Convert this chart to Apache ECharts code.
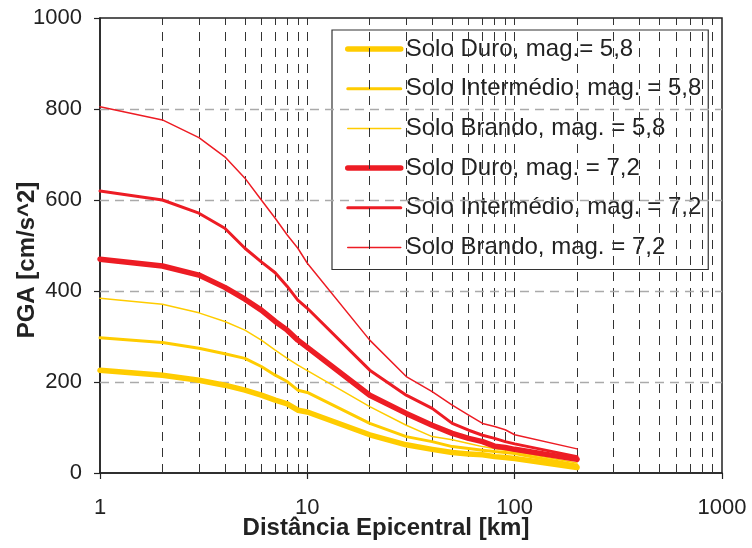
<!DOCTYPE html>
<html>
<head>
<meta charset="utf-8">
<script src="https://cdn.jsdelivr.net/npm/echarts@6/dist/echarts.min.js"></script>
<style>
  html, body { margin: 0; padding: 0; background: #fff; }
  #chart { width: 752px; height: 548px; }
</style>
</head>
<body>
<div id="chart"></div>
<script>
// Epicentral distance [km]
const distances = [1, 2, 3, 4, 5, 6, 7, 8, 9, 10, 20, 30, 40, 50, 60, 70, 80, 90, 100, 200];

// PGA [cm/s^2] per soil type and magnitude
const duro58    = [226, 215, 204, 193, 182, 171, 160, 152, 138, 134, 84, 62, 52, 45, 42, 40, 36, 34, 32, 12];
const inter58   = [297, 287, 274, 262, 252, 234, 215, 201, 182, 177, 109, 80, 69, 58, 54, 50, 47, 45, 43, 17];
const brando58  = [384, 371, 352, 333, 314, 292, 270, 252, 237, 225, 146, 105, 80, 73, 65, 58, 54, 50, 47, 22];
const duro72    = [470, 455, 435, 408, 382, 358, 333, 314, 292, 276, 171, 131, 105, 87, 76, 69, 59, 56, 52, 30];
const inter72   = [620, 600, 571, 538, 494, 464, 440, 410, 380, 362, 226, 171, 142, 109, 94, 83, 76, 69, 64, 36];
const brando72  = [805, 776, 737, 695, 648, 600, 560, 523, 494, 461, 292, 212, 179, 149, 127, 109, 102, 95, 84, 53];

const seriesNames = [
  'Solo Duro, mag.= 5,8',
  'Solo Intermédio, mag. = 5,8',
  'Solo Brando, mag. = 5,8',
  'Solo Duro, mag. = 7,2',
  'Solo Intermédio, mag. = 7,2',
  'Solo Brando, mag. = 7,2'
];
const seriesValues = [duro58, inter58, brando58, duro72, inter72, brando72];

// Log-decade grid positions and horizontal grid levels
const xGridValues = [2, 3, 4, 5, 6, 7, 8, 9, 10, 20, 30, 40, 50, 60, 70, 80, 90, 100,
                     200, 300, 400, 500, 600, 700, 800, 900];
const yGridValues = [200, 400, 600, 800];

const YELLOW = '#FFCC00';
const RED = '#ED1C24';
const colors = [YELLOW, YELLOW, YELLOW, RED, RED, RED];
const widths = [5.5, 3, 1.5, 5.5, 3, 1.5];

const FONT = '"Liberation Sans", Arial, sans-serif';

const chart = echarts.init(document.getElementById('chart'), null, { renderer: 'canvas' });

const lineSeries = seriesNames.map((name, i) => ({
  name: name,
  type: 'line',
  data: distances.map((d, k) => [d, seriesValues[i][k]]),
  showSymbol: false,
  symbol: 'none',
  z: 5,
  color: colors[i],
  lineStyle: { color: colors[i], width: widths[i], cap: 'round', join: 'round' },
  emphasis: { disabled: true },
  silent: true
}));

// Dashed grid drawn as mark lines on an empty helper series
const gridSeries = {
  name: 'grid',
  type: 'line',
  data: [],
  z: 1,
  silent: true,
  markLine: {
    silent: true,
    symbol: ['none', 'none'],
    label: { show: false },
    animation: false,
    data: [
      ...xGridValues.map(v => ({ xAxis: v, lineStyle: { color: '#333', width: 1, type: [9, 7] } })),
      ...yGridValues.map(v => ({ yAxis: v, lineStyle: { color: '#aaa', width: 1.3, type: [9, 6] } }))
    ]
  }
};

chart.setOption({
  animation: false,
  backgroundColor: '#fff',
  grid: {
    left: 100, right: 30, top: 18, bottom: 75,
    outerBoundsMode: 'none',
    containLabel: false,
    show: true, borderColor: '#222', borderWidth: 1.5, backgroundColor: 'transparent'
  },
  legend: {
    data: seriesNames.map((name, i) => ({
      name: name,
      // plain line sample, no marker
      itemStyle: { color: 'rgba(0,0,0,0)', borderColor: 'rgba(0,0,0,0)', borderWidth: 0 },
      lineStyle: { color: colors[i], width: widths[i], cap: 'round' }
    })),
    orient: 'vertical',
    left: 332, top: 30,
    backgroundColor: '#fff',
    borderColor: '#333', borderWidth: 1.2,
    padding: [7, 7, 10, 13],
    itemWidth: 53, itemHeight: 14, itemGap: 15.7,
    textStyle: { fontSize: 24, fontFamily: FONT, color: '#222', lineHeight: 24 },
    selectedMode: false
  },
  xAxis: {
    type: 'log', logBase: 10, min: 1, max: 1000,
    name: 'Distância Epicentral [km]',
    nameLocation: 'middle', nameGap: 43,
    nameMoveOverlap: false,
    nameTextStyle: {
      fontSize: 24, fontWeight: 'bold', fontFamily: FONT, color: '#222',
      padding: [0, 50, 0, 0]
    },
    axisLine: { show: true, lineStyle: { color: '#222', width: 1.5 } },
    axisTick: { show: true, inside: false, length: 6, lineStyle: { color: '#222', width: 1.2 } },
    axisLabel: { fontSize: 22, fontFamily: FONT, color: '#222', margin: 24, formatter: v => String(v) },
    splitLine: { show: false },
    minorTick: { show: false },
    minorSplitLine: { show: false }
  },
  yAxis: {
    type: 'value', min: 0, max: 1000, interval: 200,
    name: 'PGA [cm/s^2]',
    nameLocation: 'middle', nameGap: 61,
    nameMoveOverlap: false,
    nameTextStyle: {
      fontSize: 24, fontWeight: 'bold', fontFamily: FONT, color: '#222',
      padding: [0, 29, 0, 0]
    },
    axisLine: { show: true, lineStyle: { color: '#222', width: 1.5 } },
    axisTick: { show: true, inside: false, length: 6, lineStyle: { color: '#222', width: 1.2 } },
    axisLabel: { fontSize: 22, fontFamily: FONT, color: '#222', margin: 18, formatter: v => String(v) },
    splitLine: { show: false }
  },
  series: [gridSeries, ...lineSeries]
});
</script>
</body>
</html>
